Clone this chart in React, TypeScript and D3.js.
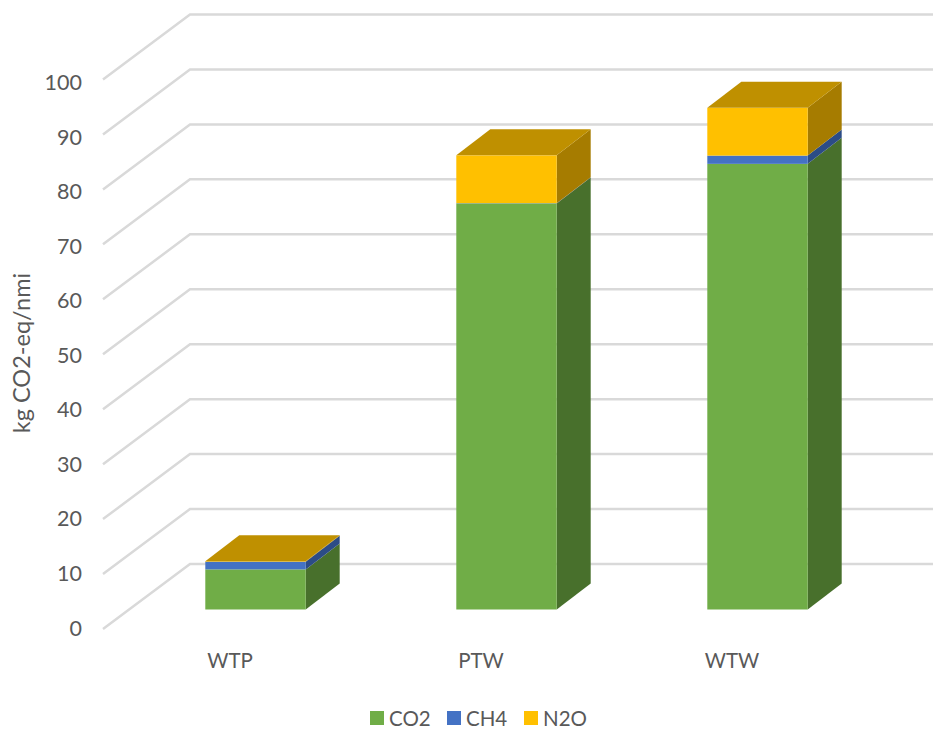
import React, { useEffect, useRef } from 'react';
import * as d3 from 'd3';

const categories = ['WTP', 'PTW', 'WTW'];
const seriesNames = ['CO2', 'CH4', 'N2O'];
const co2Values = [7.3, 73.9, 81.1];
const ch4Values = [1.4, 0.05, 1.5];
const n2oValues = [0.1, 8.7, 8.7];
const yTicks = [0, 10, 20, 30, 40, 50, 60, 70, 80, 90, 100];

const frontColors = ['#70ad47', '#4472c4', '#ffc000'];
const sideColors = ['#48702c', '#2c4c86', '#a67c00'];
const topColor = '#bf9000';
const textColor = '#595959';
const gridColor = '#d9d9d9';
const fontFamily = 'Lato, sans-serif';

const width = 933;
const height = 730;

const App = () => {
    const svgRef = useRef<SVGSVGElement>(null);

    useEffect(() => {
        const svg = d3.select(svgRef.current);
        svg.selectAll('*').remove(); // Clear previous content

        // back wall of the 3d box
        const scaleBack = d3.scaleLinear().domain([0, 100]).range([564, 14.5]);
        const scaleLabel = d3.scaleLinear().domain([0, 100]).range([628, 82.5]);
        const floorDx = 87;
        const floorDy = 65;
        const backLeft = 190;
        const barDx = 34;
        const barDy = 26;
        const barDrop = 45.5; // front of the bars sits this far below the back wall

        const scaleX = d3.scaleBand()
            .domain(categories)
            .range([130, 883])
            .paddingInner(0.6)
            .paddingOuter(0.3);

        // grid
        const gridLine = d3.line();
        svg.append('g')
            .selectAll('path')
            .data(yTicks)
            .enter()
            .append('path')
            .attr('d', tick => gridLine([
                [backLeft - floorDx, scaleBack(tick) + floorDy],
                [backLeft, scaleBack(tick)],
                [width, scaleBack(tick)],
            ]))
            .attr('fill', 'none')
            .attr('stroke', gridColor)
            .attr('stroke-width', 2.5);

        // y tick labels
        svg.append('g')
            .selectAll('text')
            .data(yTicks)
            .enter()
            .append('text')
            .attr('x', 82)
            .attr('y', tick => scaleLabel(tick))
            .attr('dy', '0.35em')
            .attr('text-anchor', 'end')
            .attr('font-size', 21.5)
            .attr('fill', textColor)
            .text(tick => tick);

        svg.append('text')
            .attr('transform', 'translate(30,353) rotate(-90)')
            .attr('text-anchor', 'middle')
            .attr('font-size', 23.5)
            .attr('fill', textColor)
            .text('kg CO2-eq/nmi');

        // stacked 3d bars
        const rows = categories.map((category, i) => ({
            category,
            CO2: co2Values[i],
            CH4: ch4Values[i],
            N2O: n2oValues[i],
        }));
        const stacked = d3.stack().keys(seriesNames)(rows as any);
        const poly = d3.line();

        rows.forEach((row, rowIndex) => {
            const x0 = scaleX(row.category) as number;
            const x1 = x0 + scaleX.bandwidth();
            const bar = svg.append('g');

            stacked.forEach((layer, layerIndex) => {
                const yLow = scaleBack(layer[rowIndex][0]) + barDrop;
                const yHigh = scaleBack(layer[rowIndex][1]) + barDrop;

                bar.append('path')
                    .attr('d', poly([[x1, yLow], [x1 + barDx, yLow - barDy], [x1 + barDx, yHigh - barDy], [x1, yHigh]]) + 'Z')
                    .attr('fill', sideColors[layerIndex]);
                bar.append('rect')
                    .attr('x', x0)
                    .attr('y', yHigh)
                    .attr('width', x1 - x0)
                    .attr('height', yLow - yHigh)
                    .attr('fill', frontColors[layerIndex]);

                if (layerIndex === stacked.length - 1) {
                    bar.append('path')
                        .attr('d', poly([[x0, yHigh], [x0 + barDx, yHigh - barDy], [x1 + barDx, yHigh - barDy], [x1, yHigh]]) + 'Z')
                        .attr('fill', topColor);
                }
            });

            svg.append('text')
                .attr('x', (x0 + x1) / 2 - 25.5)
                .attr('y', 668)
                .attr('text-anchor', 'middle')
                .attr('font-size', 20.5)
                .attr('fill', textColor)
                .text(row.category);
        });

        // legend
        const legendX = d3.scalePoint().domain(seriesNames).range([370, 524]);
        const legend = svg.append('g')
            .selectAll('g')
            .data(seriesNames)
            .enter()
            .append('g')
            .attr('transform', name => `translate(${legendX(name)},711)`);
        legend.append('rect')
            .attr('width', 14)
            .attr('height', 14)
            .attr('fill', (_, i) => frontColors[i]);
        legend.append('text')
            .attr('x', 19)
            .attr('y', 14.5)
            .attr('font-size', 20.5)
            .attr('fill', textColor)
            .text(name => name);
    }, []);

    return (
        <svg
            ref={svgRef}
            width={width}
            height={height}
            fontFamily={fontFamily}
            style={{ position: 'absolute', left: 0, top: 0, background: '#fff' }}
        ></svg>
    );
};

export default App;
